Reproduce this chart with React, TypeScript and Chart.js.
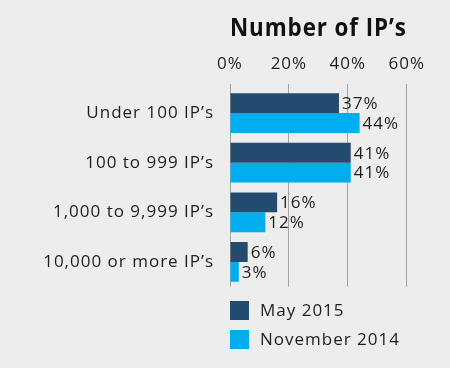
import React, { useEffect, useRef } from "react";
import { Chart, registerables } from "chart.js";

Chart.register(...registerables);

const categories = ["Under 100 IP’s", "100 to 999 IP’s", "1,000 to 9,999 IP’s", "10,000 or more IP’s"];
const may2015 = [37, 41, 16, 6];
const nov2014 = [44, 41, 12, 3];
const seriesNames = ["May 2015", "November 2014"];
const xTicks = [0, 20, 40, 60];
const titleText = "Number of IP’s";

const FONT = "'Open Sans', 'DejaVu Sans', sans-serif";
const DARK = "#234b6f";
const LIGHT = "#00aeef";
const BG = "#ededed";
const TEXT = "#1e1e1e";
const SPACING = "1px";

const letterSpacing = {
  id: "letterSpacing",
  beforeLayout(chart: any) {
    chart.ctx.letterSpacing = SPACING;
  },
  beforeDraw(chart: any) {
    chart.ctx.letterSpacing = SPACING;
  },
};

const valueLabels = {
  id: "valueLabels",
  afterDatasetsDraw(chart: any) {
    const ctx = chart.ctx;
    ctx.save();
    ctx.font = `17px ${FONT}`;
    ctx.fillStyle = TEXT;
    ctx.textAlign = "left";
    ctx.textBaseline = "middle";
    chart.data.datasets.forEach((ds: any, i: number) => {
      const meta = chart.getDatasetMeta(i);
      meta.data.forEach((bar: any, j: number) => {
        ctx.fillText(ds.data[j] + "%", bar.x + 3, bar.y + 1);
      });
    });
    ctx.restore();
  },
};

const customLegend = {
  id: "customLegend",
  afterDraw(chart: any) {
    const ctx = chart.ctx;
    const { left, bottom } = chart.chartArea;
    ctx.save();
    ctx.font = `17px ${FONT}`;
    ctx.textAlign = "left";
    ctx.textBaseline = "middle";
    chart.data.datasets.forEach((ds: any, i: number) => {
      const y = bottom + 14.3 + i * 29;
      ctx.fillStyle = ds.backgroundColor;
      ctx.fillRect(left, y, 19, 19);
      ctx.fillStyle = TEXT;
      ctx.fillText(ds.label, left + 30, y + 10);
    });
    ctx.restore();
  },
};

export default function App() {
  const ref = useRef<HTMLCanvasElement>(null);
  useEffect(() => {
    document.body.style.margin = "0";
    document.body.style.background = BG;
    const chart = new Chart(ref.current as HTMLCanvasElement, {
      type: "bar",
      data: {
        labels: categories,
        datasets: [
          { label: seriesNames[0], data: may2015, backgroundColor: DARK },
          { label: seriesNames[1], data: nov2014, backgroundColor: LIGHT },
        ],
      },
      options: {
        indexAxis: "y",
        responsive: false,
        animation: false,
        events: [],
        layout: { padding: { left: 0, right: 43.3, top: 0, bottom: 81.3 } },
        datasets: { bar: { categoryPercentage: 0.8, barPercentage: 1 } },
        scales: {
          x: {
            position: "top",
            min: 0,
            max: 60,
            z: 1,
            afterBuildTicks: (s: any) => {
              s.ticks = xTicks.map((v) => ({ value: v }));
            },
            afterFit: (s: any) => {
              s.height = 44.6;
            },
            ticks: {
              callback: (v: any) => v + "%",
              padding: 10,
              color: TEXT,
              font: { family: FONT, size: 17 },
            },
            grid: { color: "#a3a3a3", lineWidth: 1, drawTicks: true, tickLength: 4.3 },
            border: { display: false },
          },
          y: {
            afterFit: (s: any) => {
              s.width = 230;
            },
            ticks: {
              padding: 16,
              color: TEXT,
              font: { family: FONT, size: 17 },
            },
            grid: { display: false, drawTicks: false },
            border: { display: false },
          },
        },
        plugins: {
          legend: { display: false },
          tooltip: { enabled: false },
          title: {
            display: true,
            text: titleText,
            fullSize: false,
            color: "#111",
            font: { family: FONT, size: 24.5, weight: "bold" },
            padding: { top: 14.3, bottom: 0 },
          },
        },
      } as any,
      plugins: [letterSpacing, valueLabels, customLegend],
    });
    return () => chart.destroy();
  }, []);
  return (
    <div style={{ width: 450, height: 368, background: BG }}>
      <canvas ref={ref} width={450} height={368} style={{ display: "block" }} />
    </div>
  );
}
